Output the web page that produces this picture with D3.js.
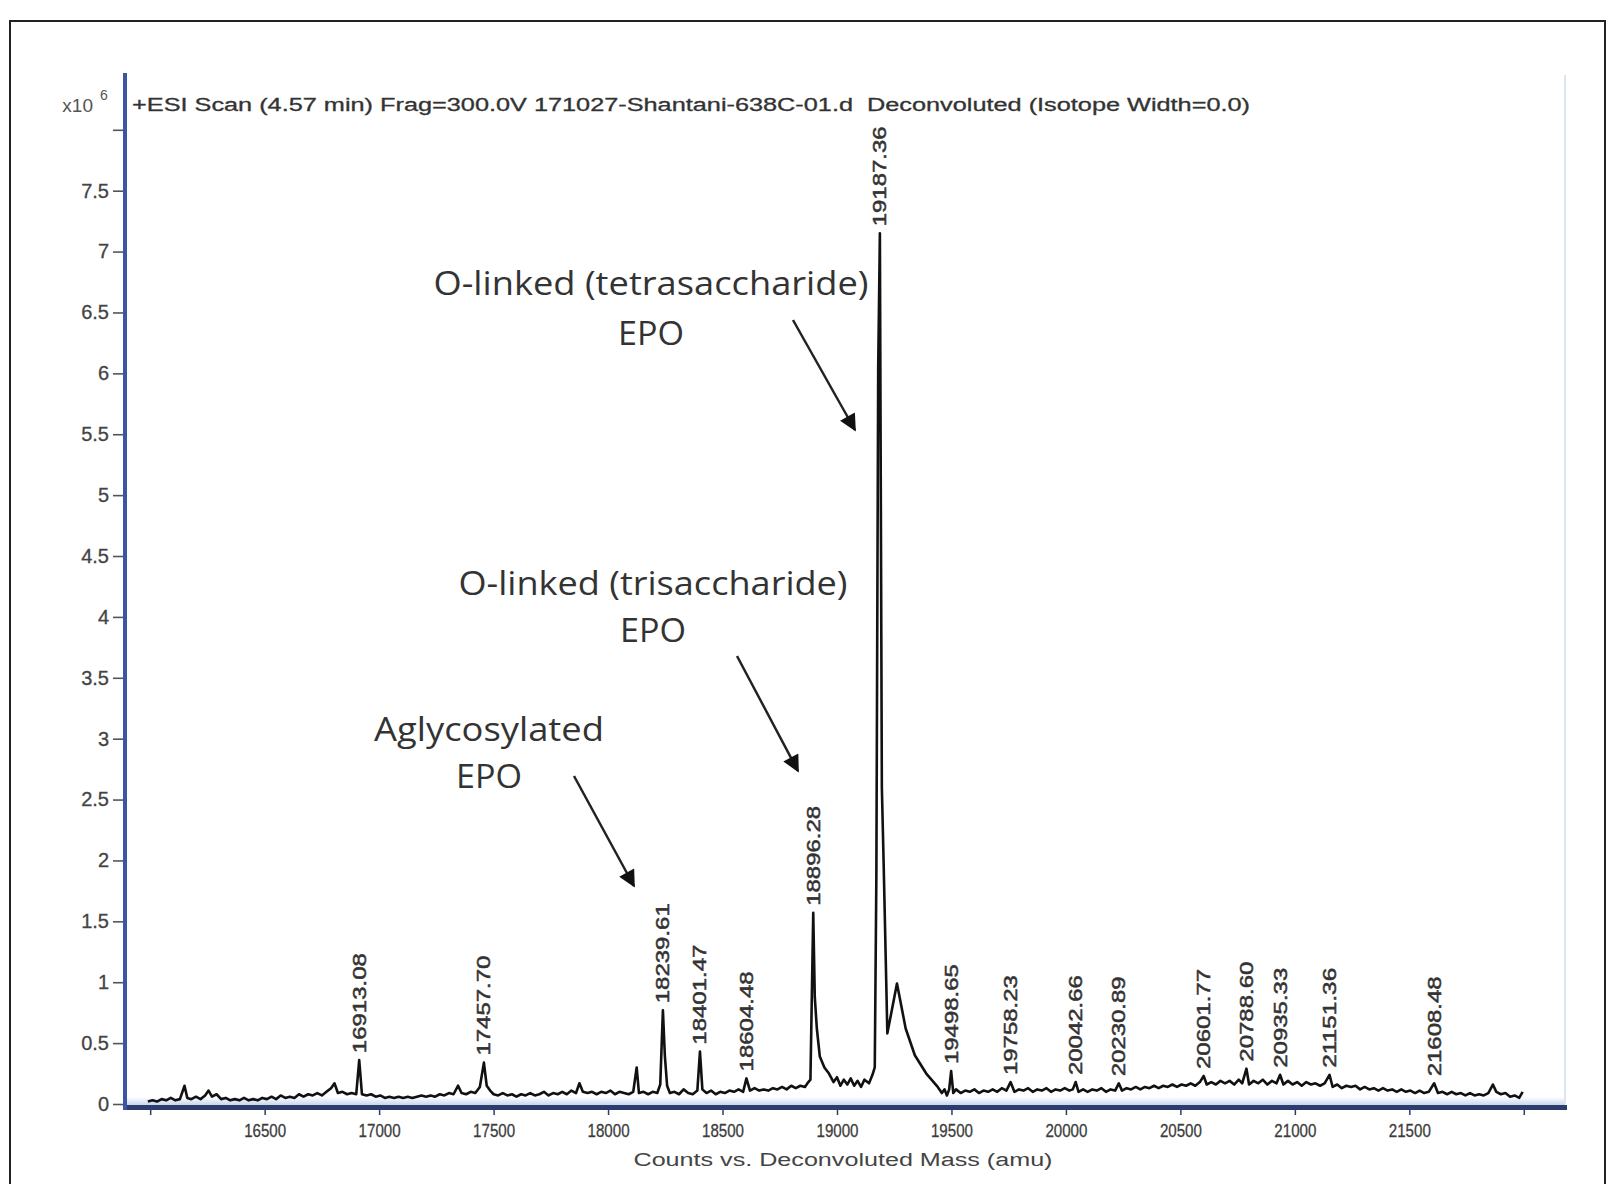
<!DOCTYPE html>
<html>
<head>
<meta charset="utf-8">
<script src="https://cdn.jsdelivr.net/npm/d3@7"></script>
<style>
  body { margin: 0; background: #fff; }
  svg { display: block; }
</style>
</head>
<body>
<svg id="chart" width="1618" height="1184"></svg>
<script>
// Deconvoluted ESI spectrum: mass (amu) and counts (x10^6)
const mass = [
  15990, 16010, 16030, 16050, 16070, 16090, 16110, 16130, 16150, 16162,
  16180, 16200, 16220, 16240, 16255, 16270, 16290, 16310, 16330, 16350,
  16370, 16390, 16410, 16430, 16450, 16470, 16490, 16510, 16530, 16550,
  16570, 16590, 16610, 16630, 16650, 16670, 16690, 16710, 16730, 16750,
  16770, 16790, 16805, 16820, 16840, 16860, 16880, 16900, 16913.08, 16925,
  16945, 16965, 16985, 17005, 17025, 17045, 17065, 17085, 17105, 17125,
  17145, 17165, 17185, 17205, 17225, 17245, 17265, 17285, 17305, 17325,
  17345, 17360, 17380, 17400, 17420, 17440, 17457.70, 17470, 17485, 17500,
  17520, 17540, 17560, 17580, 17600, 17620, 17640, 17660, 17680, 17700,
  17720, 17740, 17760, 17780, 17800, 17820, 17840, 17860, 17875, 17890,
  17910, 17930, 17950, 17970, 17990, 18010, 18030, 18050, 18070, 18090,
  18110, 18125, 18135, 18155, 18175, 18195, 18215, 18228, 18239.61, 18248,
  18258, 18270, 18290, 18310, 18330, 18350, 18370, 18390, 18401.47, 18412,
  18430, 18450, 18470, 18490, 18510, 18530, 18550, 18570, 18590, 18604.48,
  18620, 18640, 18660, 18680, 18700, 18720, 18740, 18760, 18780, 18800,
  18820, 18840, 18860, 18875, 18884, 18896.28, 18903, 18912, 18925, 18945,
  18965, 18985, 19000, 19015, 19030, 19045, 19060, 19075, 19090, 19105,
  19120, 19140, 19155, 19165, 19172, 19180, 19187.36, 19196, 19204, 19220,
  19262, 19300, 19340, 19390, 19440, 19458, 19470, 19480, 19490, 19498.65,
  19508, 19520, 19540, 19560, 19580, 19600, 19620, 19640, 19660, 19680,
  19700, 19720, 19740, 19758.23, 19775, 19795, 19815, 19835, 19855, 19875,
  19895, 19915, 19935, 19955, 19975, 19995, 20015, 20030, 20042.66, 20055,
  20075, 20095, 20115, 20135, 20155, 20175, 20195, 20215, 20230.89, 20245,
  20265, 20285, 20305, 20325, 20345, 20365, 20385, 20405, 20425, 20445,
  20465, 20485, 20505, 20525, 20545, 20565, 20585, 20601.77, 20615, 20635,
  20655, 20675, 20695, 20715, 20735, 20755, 20770, 20788.60, 20800, 20820,
  20840, 20860, 20880, 20900, 20920, 20935.33, 20950, 20970, 20990, 21010,
  21030, 21050, 21070, 21090, 21110, 21130, 21151.36, 21165, 21185, 21205,
  21225, 21245, 21265, 21285, 21305, 21325, 21345, 21365, 21385, 21405,
  21425, 21445, 21465, 21485, 21505, 21525, 21545, 21565, 21585, 21608.48,
  21625, 21645, 21665, 21685, 21705, 21725, 21745, 21765, 21785, 21805,
  21825, 21845, 21865, 21880, 21900, 21920, 21940, 21960, 21980, 21995
];
const counts = [
  0.02, 0.03, 0.02, 0.04, 0.03, 0.05, 0.03, 0.04, 0.15, 0.05,
  0.04, 0.06, 0.04, 0.07, 0.11, 0.06, 0.08, 0.04, 0.05, 0.03,
  0.04, 0.03, 0.05, 0.03, 0.04, 0.03, 0.05, 0.04, 0.06, 0.04,
  0.07, 0.05, 0.06, 0.05, 0.08, 0.06, 0.08, 0.07, 0.09, 0.07,
  0.10, 0.13, 0.17, 0.09, 0.10, 0.08, 0.09, 0.08, 0.36, 0.08,
  0.07, 0.08, 0.06, 0.07, 0.05, 0.06, 0.05, 0.06, 0.05, 0.06,
  0.05, 0.06, 0.07, 0.06, 0.07, 0.06, 0.08, 0.07, 0.09, 0.08,
  0.15, 0.09, 0.08, 0.10, 0.09, 0.14, 0.34, 0.15, 0.11, 0.08,
  0.07, 0.09, 0.07, 0.08, 0.06, 0.08, 0.07, 0.09, 0.07, 0.08,
  0.10, 0.07, 0.09, 0.08, 0.10, 0.08, 0.11, 0.09, 0.17, 0.10,
  0.09, 0.10, 0.08, 0.10, 0.09, 0.11, 0.08, 0.10, 0.09, 0.08,
  0.10, 0.30, 0.09, 0.10, 0.08, 0.10, 0.09, 0.16, 0.77, 0.40,
  0.15, 0.09, 0.10, 0.08, 0.12, 0.09, 0.08, 0.11, 0.43, 0.12,
  0.09, 0.11, 0.08, 0.10, 0.09, 0.11, 0.10, 0.12, 0.10, 0.21,
  0.11, 0.13, 0.11, 0.12, 0.11, 0.13, 0.12, 0.14, 0.12, 0.15,
  0.13, 0.15, 0.14, 0.18, 0.20, 1.57, 0.88, 0.62, 0.39, 0.30,
  0.25, 0.18, 0.22, 0.15, 0.20, 0.16, 0.21, 0.15, 0.19, 0.14,
  0.20, 0.17, 0.24, 0.30, 1.87, 6.05, 7.15, 2.60, 1.96, 0.58,
  0.99, 0.62, 0.40, 0.25, 0.14, 0.09, 0.12, 0.07, 0.12, 0.27,
  0.09, 0.12, 0.09, 0.11, 0.10, 0.12, 0.09, 0.11, 0.10, 0.12,
  0.10, 0.13, 0.11, 0.18, 0.10, 0.12, 0.11, 0.13, 0.10, 0.12,
  0.11, 0.13, 0.10, 0.12, 0.11, 0.13, 0.11, 0.12, 0.18, 0.10,
  0.12, 0.10, 0.12, 0.11, 0.13, 0.10, 0.12, 0.11, 0.17, 0.11,
  0.13, 0.12, 0.14, 0.12, 0.14, 0.13, 0.15, 0.13, 0.15, 0.14,
  0.16, 0.14, 0.16, 0.15, 0.17, 0.15, 0.18, 0.23, 0.16, 0.18,
  0.16, 0.19, 0.17, 0.19, 0.16, 0.20, 0.17, 0.29, 0.16, 0.19,
  0.17, 0.20, 0.16, 0.19, 0.17, 0.24, 0.16, 0.19, 0.16, 0.18,
  0.15, 0.18, 0.16, 0.17, 0.15, 0.17, 0.24, 0.14, 0.16, 0.13,
  0.15, 0.14, 0.15, 0.12, 0.14, 0.12, 0.13, 0.11, 0.13, 0.11,
  0.12, 0.10, 0.12, 0.10, 0.11, 0.09, 0.11, 0.09, 0.10, 0.17,
  0.09, 0.10, 0.08, 0.10, 0.08, 0.09, 0.07, 0.09, 0.07, 0.08,
  0.07, 0.09, 0.16, 0.10, 0.08, 0.09, 0.06, 0.07, 0.05, 0.10
];

// Labelled peaks (deconvoluted masses)
const peakMass = [
  16913.08, 17457.70, 18239.61, 18401.47, 18604.48, 18896.28, 19187.36,
  19498.65, 19758.23, 20042.66, 20230.89, 20601.77, 20788.60, 20935.33,
  21151.36, 21608.48
];

const yTicks = d3.range(0, 8.01, 0.5);
const xTicks = d3.range(16000, 22001, 500);
const xTickLabels = [16500, 17000, 17500, 18000, 18500, 19000, 19500, 20000, 20500, 21000, 21500];

const titleText = "+ESI Scan (4.57 min) Frag=300.0V 171027-Shantani-638C-01.d  Deconvoluted (Isotope Width=0.0)";
const xAxisTitle = "Counts vs. Deconvoluted Mass (amu)";
const noteTetra = ["O-linked (tetrasaccharide)", "EPO"];
const noteTri = ["O-linked (trisaccharide)", "EPO"];
const noteAgly = ["Aglycosylated", "EPO"];

const svg = d3.select("#chart");
const plot = { left: 125, right: 1565, top: 75, bottom: 1104 };
const sans = "Liberation Sans, Arial, sans-serif";

const x = d3.scaleLinear().domain([15890, 22180]).range([plot.left, plot.right]);
const y = d3.scaleLinear().domain([0, 8.45]).range([plot.bottom, plot.top]);

const defs = svg.append("defs");
const band = defs.append("linearGradient").attr("id", "band").attr("x1", 0).attr("x2", 0).attr("y1", 0).attr("y2", 1);
band.append("stop").attr("offset", "0%").attr("stop-color", "#ffffff");
band.append("stop").attr("offset", "100%").attr("stop-color", "#c7d6ec");
const topGrad = defs.append("linearGradient").attr("id", "topline").attr("x1", 0).attr("x2", 1);
topGrad.append("stop").attr("offset", "0%").attr("stop-color", "#4a6fbf");
topGrad.append("stop").attr("offset", "100%").attr("stop-color", "#2f4f8f");
defs.append("marker").attr("id", "arrowhead")
  .attr("viewBox", "0 0 10 10").attr("refX", 9).attr("refY", 5)
  .attr("markerWidth", 22).attr("markerHeight", 17).attr("markerUnits", "userSpaceOnUse")
  .attr("orient", "auto")
  .append("path").attr("d", "M0,0 L10,5 L0,10 Z").attr("fill", "#111");

// outer frame
svg.append("rect").attr("x", 10).attr("y", 21).attr("width", 1595).attr("height", 1200)
  .attr("fill", "none").attr("stroke", "#222").attr("stroke-width", 2);

// plot borders
svg.append("rect").attr("x", plot.left + 2).attr("y", plot.bottom - 7)
  .attr("width", plot.right - plot.left - 2).attr("height", 8).attr("fill", "url(#band)");
svg.append("line").attr("x1", plot.right).attr("x2", plot.right).attr("y1", plot.top).attr("y2", plot.bottom)
  .attr("stroke", "#dfe5ee").attr("stroke-width", 2);
svg.append("line").attr("x1", plot.left - 2).attr("x2", plot.right + 2).attr("y1", plot.top).attr("y2", plot.top)
  .attr("stroke", "url(#topline)").attr("stroke-width", 3);

// y axis
const yAxis = d3.axisLeft(y).tickValues(yTicks).tickSize(10).tickPadding(4)
  .tickFormat(d => d === 8 ? "" : String(d));
const gy = svg.append("g").attr("transform", `translate(${plot.left - 2},0)`).call(yAxis);
gy.select(".domain").remove();
gy.selectAll(".tick line").attr("stroke", "#555").attr("stroke-width", 1.6);
gy.selectAll(".tick text").attr("fill", "#444").style("font-family", sans)
  .style("font-size", "20px").attr("stroke", "#444").attr("stroke-width", 0.3);

// x axis
const xAxis = d3.axisBottom(x).tickValues(xTicks).tickSize(8).tickPadding(9)
  .tickFormat(d => xTickLabels.includes(d) ? String(d) : "");
const gx = svg.append("g").attr("transform", `translate(0,${plot.bottom + 3})`).call(xAxis);
gx.select(".domain").remove();
gx.selectAll(".tick line").attr("stroke", "#2d3d6b").attr("stroke-width", 1.5);
gx.selectAll(".tick text").attr("fill", "#3c3c3c").style("font-family", sans)
  .style("font-size", "19px").attr("stroke", "#3c3c3c").attr("stroke-width", 0.3)
  .attr("textLength", 42).attr("lengthAdjust", "spacingAndGlyphs");

// spectrum trace
const line = d3.line().x((d, i) => x(mass[i])).y((d, i) => y(counts[i]));
svg.append("path").datum(counts).attr("d", line)
  .attr("fill", "none").attr("stroke", "#111").attr("stroke-width", 2.6)
  .attr("stroke-linejoin", "round");

// axis lines drawn above the trace
svg.append("rect").attr("x", plot.left - 2).attr("y", plot.bottom + 1)
  .attr("width", plot.right - plot.left + 4).attr("height", 5).attr("fill", "#2d3d6b");
svg.append("rect").attr("x", plot.left - 2).attr("y", plot.top - 2)
  .attr("width", 4).attr("height", plot.bottom - plot.top + 8).attr("fill", "#3d53a3");

// peak labels
const peakValue = m => counts[mass.indexOf(m)];
svg.append("g").selectAll("text").data(peakMass).join("text")
  .attr("transform", m => `translate(${x(m)},${y(peakValue(m)) - 7}) rotate(-90)`)
  .attr("text-anchor", "start").attr("dominant-baseline", "central")
  .attr("textLength", 100).attr("lengthAdjust", "spacingAndGlyphs")
  .attr("fill", "#333").attr("stroke", "#333").attr("stroke-width", 0.5)
  .style("font-family", sans).style("font-size", "19px")
  .text(m => m.toFixed(2));

// title and scale exponent
svg.append("text").attr("x", 132).attr("y", 105).attr("dominant-baseline", "central")
  .attr("textLength", 1118).attr("lengthAdjust", "spacingAndGlyphs")
  .attr("fill", "#333").attr("stroke", "#333").attr("stroke-width", 0.3)
  .style("font-family", sans).style("font-size", "18px")
  .style("white-space", "pre").text(titleText);
svg.append("text").attr("x", 93).attr("y", 112).attr("text-anchor", "end")
  .attr("fill", "#555").style("font-family", sans).style("font-size", "19px").text("x10");
svg.append("text").attr("x", 100).attr("y", 100).attr("fill", "#555")
  .style("font-family", sans).style("font-size", "14px").text("6");

svg.append("text").attr("x", 843).attr("y", 1160).attr("text-anchor", "middle").attr("dominant-baseline", "central")
  .attr("textLength", 419).attr("lengthAdjust", "spacingAndGlyphs")
  .attr("fill", "#444").style("font-family", sans).style("font-size", "18px")
  .text(xAxisTitle);

// annotations with arrows
function note(lines, cx, cy1, cy2, width1, from, to) {
  const g = svg.append("g").attr("fill", "#333")
    .style("font-family", "Open Sans, Noto Sans, sans-serif").style("font-size", "33px")
    .style("font-weight", 500);
  g.append("text").attr("x", cx).attr("y", cy1).attr("text-anchor", "middle").attr("dominant-baseline", "central")
    .attr("textLength", width1).attr("lengthAdjust", "spacingAndGlyphs").text(lines[0]);
  g.append("text").attr("x", cx).attr("y", cy2).attr("text-anchor", "middle").attr("dominant-baseline", "central")
    .attr("textLength", 66).attr("lengthAdjust", "spacingAndGlyphs").text(lines[1]);
  svg.append("line").attr("x1", from[0]).attr("y1", from[1]).attr("x2", to[0]).attr("y2", to[1])
    .attr("stroke", "#222").attr("stroke-width", 2.5).attr("marker-end", "url(#arrowhead)");
}
note(noteTetra, 651, 282, 332, 435, [793, 320], [855, 430]);
note(noteTri, 653, 582, 629, 389, [737, 656], [798, 771]);
note(noteAgly, 489, 728, 775, 230, [574, 776], [634, 886]);
</script>
</body>
</html>
